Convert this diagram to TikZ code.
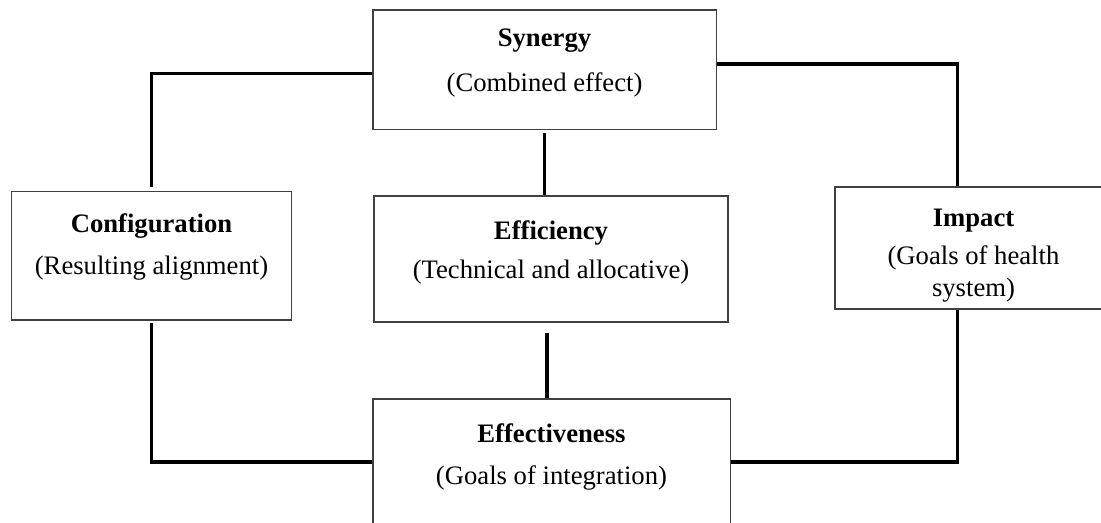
\documentclass[tikz,border=0pt]{standalone}
\usepackage{fontspec}
\setmainfont{Liberation Serif}
\usepackage{tikz}

\tikzset{
	block/.style={draw=black!75, line width=0.5pt, align=center, inner sep=0pt,
		font=\fontsize{12}{14.4}\selectfont},
	link/.style={line width=1.4pt},
}

\begin{document}
\begin{tikzpicture}[x=0.45pt, y=-0.45pt]
	\useasboundingbox (0,0) rectangle (1101,523);
	% boxes
	\node[block, minimum width=154.4pt, minimum height=53.6pt, text depth=8.3pt] (syn) at (544.5,69.5) {\textbf{Synergy}\\[6pt](Combined effect)};
	\node[block, minimum width=159.3pt, minimum height=56.7pt, text depth=8.3pt] (eff) at (551,259) {\textbf{Efficiency}\\[3pt](Technical and allocative)};
	\node[block, minimum width=125.6pt, minimum height=58pt, text depth=10.3pt] (conf) at (151.5,255.5) {\textbf{Configuration}\\[4.5pt](Resulting alignment)};
	\node[block, minimum width=124.7pt, minimum height=54.9pt, text height=45.8pt] (imp) at (973.5,248) {\textbf{Impact}\\[2.7pt](Goals of health\\system)};
	\node[block, minimum width=160.7pt, minimum height=56.7pt, text depth=7.3pt] (effc) at (551.5,462) {\textbf{Effectiveness}\\[4.5pt](Goals of integration)};
	% connectors
	\draw[link, shorten >=1.8pt] ([yshift=-1.6pt]syn.west) -| (conf.north);
	\draw[link] ([yshift=2.5pt]syn.east) -| ([xshift=-7.4pt]imp.north);
	\draw[link, shorten <=1.3pt] (syn.south) -- (syn.south |- eff.north);
	\draw[link, shorten <=4.5pt] ([xshift=-1.8pt]eff.south) -- ([xshift=-1.8pt]eff.south |- effc.north);
	\draw[link, shorten <=1pt] (conf.south) |- (effc.west);
	\draw[link] ([xshift=-7.4pt]imp.south) |- (effc.east);
\end{tikzpicture}
\end{document}
